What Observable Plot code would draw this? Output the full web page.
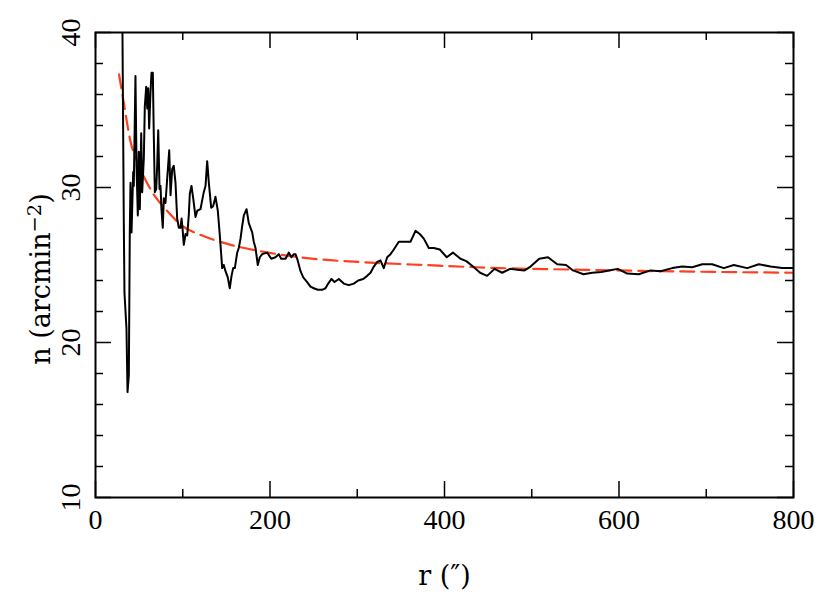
<!DOCTYPE html>
<html>
<head>
<meta charset="utf-8">
<script src="https://cdn.jsdelivr.net/npm/d3@7"></script>
<script src="https://cdn.jsdelivr.net/npm/@observablehq/plot@0.6"></script>
<style>
  html, body { margin: 0; padding: 0; background: #fff; }
</style>
</head>
<body>
<div id="chart"></div>
<script>
// Observed profile: radius r (arcsec) and surface density n (arcmin^-2)
const obsR = [30.4, 32.4, 33.2, 35.5, 36.7, 38.2, 39.3, 40.1, 41.3, 43.2, 43.9, 45.8, 47.0, 48.5, 49.6, 50.8, 52.4, 53.5, 55.4, 56.5,
  58.1, 59.3, 60.4, 61.5, 63.0, 64.2, 65.7, 66.8, 68.0, 69.6, 70.7, 71.9, 73.4, 74.5, 75.6, 77.1, 78.3, 80.2, 82.2, 84.5,
  86.0, 87.9, 89.7, 91.7, 93.6, 95.5, 97.4, 98.6, 99.7, 101.2, 103.2, 105.1, 106.9, 108.1, 110.0, 112.0, 114.6, 116.6, 120.3, 124.1,
  126.1, 128.0, 129.9, 132.6, 134.9, 137.5, 140.2, 142.5, 145.2, 147.0, 149.0, 151.6, 153.9, 155.9, 157.8, 159.7, 162.4, 164.2, 166.2, 168.1,
  170.0, 173.1, 175.7, 179.6, 181.4, 183.4, 186.0, 188.3, 191.1, 196.8, 201.4, 206.3, 210.1, 212.8, 217.8, 221.5, 224.6, 227.3, 229.2, 231.2,
  235.0, 238.1, 242.6, 246.4, 250.2, 254.8, 259.8, 263.6, 266.7, 270.5, 273.9, 278.9, 284.6, 290.3, 296.0, 301.1, 306.8, 311.4, 315.2, 319.0,
  322.9, 326.6, 330.4, 334.3, 338.1, 341.9, 347.6, 353.4, 361.0, 366.8, 371.7, 376.3, 382.0, 387.7, 394.6, 402.6, 409.7, 418.3, 425.0, 432.7,
  440.8, 448.9, 457.3, 466.1, 475.2, 483.3, 491.7, 498.6, 508.6, 518.6, 529.2, 539.3, 547.3, 559.3, 569.3, 579.7, 588.3, 598.6, 609.4, 622.7,
  636.1, 647.6, 661.0, 672.4, 683.9, 695.4, 706.8, 720.1, 731.6, 747.0, 760.2, 773.6, 787.0, 798.5];
const obsN = [44.0, 28.0, 23.2, 20.9, 16.8, 17.9, 27.1, 30.3, 27.1, 31.0, 30.1, 37.2, 31.4, 28.2, 32.3, 28.6, 33.5, 29.7, 31.9, 35.2,
  36.5, 35.1, 36.4, 33.8, 36.1, 37.4, 37.4, 33.4, 29.7, 29.9, 31.4, 33.7, 29.9, 30.1, 28.6, 27.4, 29.3, 29.0, 30.6, 32.4,
  29.5, 31.2, 31.4, 30.3, 28.0, 27.4, 27.4, 28.0, 27.4, 26.3, 27.0, 26.9, 28.2, 29.6, 30.1, 29.3, 28.1, 28.5, 28.6, 29.7,
  30.1, 31.7, 30.3, 28.7, 28.8, 29.4, 28.5, 26.9, 24.8, 25.0, 24.6, 24.2, 23.5, 24.3, 24.8, 24.8, 25.8, 26.1, 26.7, 27.5,
  28.2, 28.6, 27.7, 27.1, 26.5, 26.1, 25.0, 25.5, 25.7, 25.8, 25.4, 25.5, 25.7, 25.4, 25.4, 25.8, 25.5, 25.7, 25.7, 25.4,
  24.6, 24.2, 23.9, 23.6, 23.5, 23.4, 23.4, 23.5, 23.8, 24.1, 23.9, 24.1, 23.8, 23.7, 23.8, 24.0, 24.1, 24.3, 24.5, 24.9,
  25.2, 25.3, 24.8, 25.5, 25.7, 26.0, 26.5, 26.5, 26.5, 27.2, 27.0, 26.7, 26.1, 26.1, 26.0, 25.5, 25.8, 25.4, 25.25, 24.9,
  24.5, 24.3, 24.75, 24.5, 24.75, 24.7, 24.65, 24.9, 25.4, 25.5, 25.05, 25.0, 24.65, 24.4, 24.5, 24.55, 24.65, 24.75, 24.45, 24.4,
  24.65, 24.6, 24.8, 24.9, 24.85, 25.05, 25.05, 24.8, 25.0, 24.8, 25.05, 24.9, 24.8, 24.8];

// Model profile (red dashed)
const fitR = [27, 32, 40, 50, 65, 82, 100, 120, 155, 193, 250, 307, 376, 464, 550, 650, 800];
const fitN = [37.3, 35.6, 33.0, 31.4, 29.7, 28.5, 27.5, 26.95, 26.3, 25.85, 25.4, 25.18, 25.0, 24.8, 24.7, 24.6, 24.5];

// Ticks
const xMajor = [0, 200, 400, 600, 800];
const xMinor = [100, 300, 500, 700];
const yMajor = [10, 20, 30, 40];
const yMinor = [12, 14, 16, 18, 22, 24, 26, 28, 32, 34, 36, 38];

const xLabel = "r (\u2033)";
const yLabelMain = "n (arcmin";
const yLabelSup = "\u22122";
const yLabelEnd = ")";

const obs = obsR.map((r, i) => ({r, n: obsN[i]}));
const fit = fitR.map((r, i) => ({r, n: fitN[i]}));

const W = 830, H = 598;
const mL = 95, mR = 37, mT = 32, mB = 101;
const innerW = W - mL - mR, innerH = H - mT - mB;
const majLen = 16, minLen = 8;
const red = "#ff3f1f";

const plot = Plot.plot({
  width: W,
  height: H,
  marginLeft: mL,
  marginRight: mR,
  marginTop: mT,
  marginBottom: mB,
  style: {fontFamily: "Liberation Serif", background: "#fff", color: "#000"},
  x: {domain: [0, 800], axis: null},
  y: {domain: [10, 40], axis: null},
  marks: [
    Plot.line(fit, {x: "r", y: "n", stroke: red, strokeWidth: 2.2, strokeDasharray: "14,7", curve: "monotone-x", clip: true}),
    Plot.line(obs, {x: "r", y: "n", stroke: "#000", strokeWidth: 2, strokeLinejoin: "round", clip: true}),
    // inward ticks, all four sides
    Plot.tickX(xMajor, {x: d => d, insetTop: innerH - majLen, stroke: "#000", strokeWidth: 1.5}),
    Plot.tickX(xMajor, {x: d => d, insetBottom: innerH - majLen, stroke: "#000", strokeWidth: 1.5}),
    Plot.tickX(xMinor, {x: d => d, insetTop: innerH - minLen, stroke: "#000", strokeWidth: 1.5}),
    Plot.tickX(xMinor, {x: d => d, insetBottom: innerH - minLen, stroke: "#000", strokeWidth: 1.5}),
    Plot.tickY(yMajor, {y: d => d, insetRight: innerW - majLen, stroke: "#000", strokeWidth: 1.5}),
    Plot.tickY(yMajor, {y: d => d, insetLeft: innerW - majLen, stroke: "#000", strokeWidth: 1.5}),
    Plot.tickY(yMinor, {y: d => d, insetRight: innerW - minLen, stroke: "#000", strokeWidth: 1.5}),
    Plot.tickY(yMinor, {y: d => d, insetLeft: innerW - minLen, stroke: "#000", strokeWidth: 1.5}),
    Plot.frame({stroke: "#000", strokeWidth: 2}),
    // tick labels
    Plot.text(xMajor, {x: d => d, text: d => String(d), frameAnchor: "bottom", dy: 23, lineAnchor: "middle", textAnchor: "middle", fontSize: 28, fill: "#000"}),
    Plot.text(yMajor, {y: d => d, text: d => String(d), frameAnchor: "left", dx: -24, rotate: -90, lineAnchor: "middle", textAnchor: "middle", fontSize: 28, fill: "#000"}),
    // axis titles
    Plot.text([xLabel], {text: d => d, frameAnchor: "bottom", dy: 79, lineAnchor: "middle", textAnchor: "middle", fontSize: 27, fontFamily: "DejaVu Serif", fill: "#000"}),
    Plot.text([yLabelMain + yLabelSup + yLabelEnd], {text: d => d, frameAnchor: "left", dx: -54, dy: 14, rotate: -90, lineAnchor: "middle", textAnchor: "middle", fontSize: 27, fontFamily: "DejaVu Serif", fill: "#000", className: "ylab"})
  ]
});

// render the exponent as a real superscript
d3.select(plot).selectAll("g.ylab text").each(function() {
  const t = d3.select(this);
  t.text(null);
  t.append("tspan").text(yLabelMain);
  t.append("tspan").attr("dy", "-0.45em").attr("font-size", "0.72em").text(yLabelSup);
  t.append("tspan").attr("dy", "0.32em").text(yLabelEnd);
});

document.getElementById("chart").appendChild(plot);
</script>
</body>
</html>
